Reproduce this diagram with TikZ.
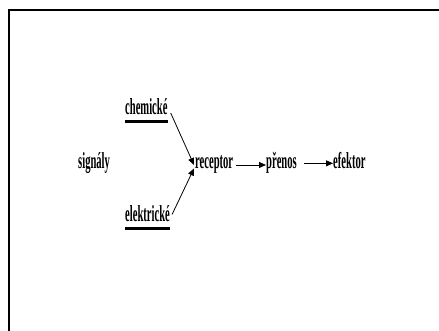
\documentclass[tikz,border=0pt]{standalone}
\usepackage{fontspec}
\setmainfont{Liberation Serif}
\usetikzlibrary{arrows.meta}
\newcommand{\sq}[1]{\scalebox{0.46}[1]{\fontsize{23}{24}\selectfont\bfseries #1}}
\tikzset{
  word/.style={inner sep=0pt, anchor=base west},
  arr/.style={line width=0.8pt, -{Triangle[length=7pt,width=6pt]}},
  uline/.style={line width=3.5pt},
  frame/.style={line width=2pt}
}
\begin{document}
\begin{tikzpicture}[x=1pt,y=-1pt]
\useasboundingbox (0,0) rectangle (439,331);
\draw[frame] (9,332) -- (9,10) -- (440,10);
\node[word] (sig) at (78,169) {\sq{signály}};
\node[word] (chem) at (125,115) {\sq{chemické}};
\node[word] (elek) at (125,221.5) {\sq{elektrické}};
\node[word] (rec) at (195,169) {\sq{receptor}};
\node[word] (pren) at (266,169) {\sq{přenos}};
\node[word] (efek) at (333,169) {\sq{efektor}};
\draw[uline] ([yshift=-6.5pt]chem.base west) -- ([yshift=-6.5pt]chem.base east);
\draw[uline] ([yshift=-7pt]elek.base west) -- ([yshift=-7pt]elek.base east);
\coordinate (t1) at ([xshift=-1pt,yshift=0pt]rec.west);
\coordinate (t2) at ([xshift=-1pt,yshift=-3.5pt]rec.west);
\draw[arr] ([xshift=3pt,yshift=2pt]chem.base east) -- (t1);
\draw[arr] ([xshift=2pt,yshift=7pt]elek.base east) -- (t2);
\draw[arr] ([xshift=3pt]rec.east) -- (rec.east -| pren.west);
\draw[arr] ([xshift=7pt]pren.east) -- (pren.east -| efek.west);
\end{tikzpicture}
\end{document}
